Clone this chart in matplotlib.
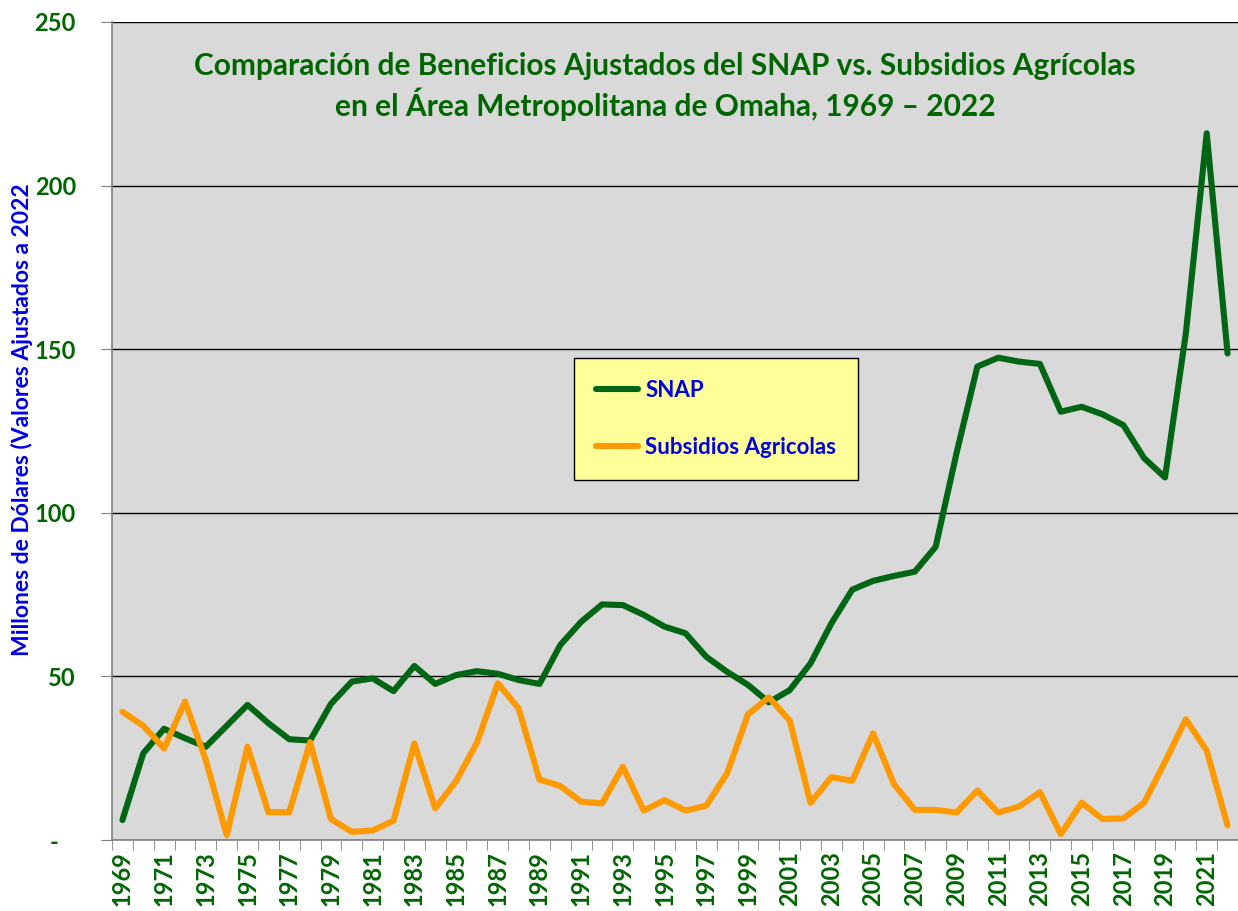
import matplotlib.pyplot as plt
from matplotlib.ticker import FixedLocator

years = list(range(1969, 2023))

snap = [6.1, 26.5, 34.0, 31.1, 28.5, 34.9, 41.3, 35.7, 30.8, 30.4,
        41.6, 48.4, 49.4, 45.5, 53.2, 47.7, 50.4, 51.6, 50.8, 48.9,
        47.7, 59.6, 66.7, 72.0, 71.8, 68.8, 65.2, 63.2, 56.0, 51.4,
        47.4, 42.1, 45.8, 54.0, 66.2, 76.5, 79.2, 80.7, 82.0, 89.6,
        118.2, 144.7, 147.4, 146.2, 145.5, 130.9, 132.4, 130.1, 126.8, 116.7,
        110.8, 154.9, 216.0, 148.7]

subsidios = [39.2, 34.9, 28.0, 42.3, 24.4, 1.5, 28.5, 8.5, 8.5, 29.9,
             6.4, 2.5, 2.9, 5.9, 29.5, 9.7, 18.0, 29.7, 47.9, 40.2,
             18.5, 16.5, 11.7, 11.2, 22.4, 9.0, 12.2, 9.0, 10.5, 20.4,
             38.4, 43.6, 36.5, 11.4, 19.2, 18.1, 32.6, 17.1, 9.2, 9.2,
             8.4, 15.1, 8.4, 10.2, 14.6, 1.8, 11.4, 6.4, 6.6, 11.4,
             23.9, 36.9, 27.3, 4.4]

y_ticks = [0, 50, 100, 150, 200, 250]
y_labels = ['-   ', '50', '100', '150', '200', '250']

green = '#006613'
orange = '#FF9900'
text_green = '#006600'
blue = '#0000E6'

plt.rcParams['font.family'] = ['Lato', 'DejaVu Sans']

fig = plt.figure(figsize=(12.38, 9.11), dpi=100)
ax = fig.add_axes([112 / 1238, 71 / 911, 1126 / 1238, 818 / 911])
ax.set_facecolor('#D9D9D9')

ax.plot(years, snap, color=green, linewidth=4.4, label='SNAP', solid_capstyle='round', zorder=3)
ax.plot(years, subsidios, color=orange, linewidth=4.4, label='Subsidios Agricolas',
        solid_capstyle='round', zorder=3)

ax.set_xlim(1968.5, 2022.5)
ax.set_ylim(0, 250)

ax.set_yticks(y_ticks)
ax.set_yticklabels(y_labels, fontsize=17, fontweight='bold', color=text_green)
ax.tick_params(axis='y', length=8, color='#808080', pad=18)
ax.grid(axis='y', color='black', linewidth=1.0, zorder=1)
ax.set_axisbelow(True)

odd_years = years[::2]
ax.xaxis.set_major_locator(FixedLocator(odd_years))
ax.set_xticklabels([str(y) for y in odd_years], rotation=90, fontsize=17,
                   fontweight='bold', color=text_green)
ax.xaxis.set_minor_locator(FixedLocator([y - 0.5 for y in years] + [2022.5]))
ax.tick_params(axis='x', which='major', length=0, pad=8)
ax.tick_params(axis='x', which='minor', length=7, color='#808080')

for side in ['top', 'right']:
    ax.spines[side].set_visible(False)
ax.spines['left'].set_color('#808080')
ax.spines['bottom'].set_color('#808080')
ax.spines['left'].set_linewidth(1.2)
ax.spines['bottom'].set_linewidth(1.2)

fig.text(22 / 1238, (911 - 420) / 911, 'Millones de Dólares (Valores Ajustados a 2022',
         rotation=90, ha='center', va='center', fontsize=16.5, fontweight='bold', color=blue)

ax.text(0.491, 0.921, 'Comparación de Beneficios Ajustados del SNAP vs. Subsidios Agrícolas\n'
        'en el Área Metropolitana de Omaha, 1969 – 2022', transform=ax.transAxes,
        ha='center', va='center', fontsize=21.5, fontweight='bold', color=text_green,
        linespacing=1.25)

leg = ax.legend(loc='center', bbox_to_anchor=(0.402, 0.444, 0.269, 0.142),
                fancybox=False, framealpha=1, facecolor='#FFFF99', edgecolor='black',
                fontsize=16, handlelength=1.9, handletextpad=0.3, labelspacing=1.6,
                borderpad=1.0, borderaxespad=0)
for t in leg.get_texts():
    t.set_color(blue)
    t.set_fontweight('bold')
leg.get_frame().set_linewidth(1.0)

plt.savefig('out.png', dpi=100)
